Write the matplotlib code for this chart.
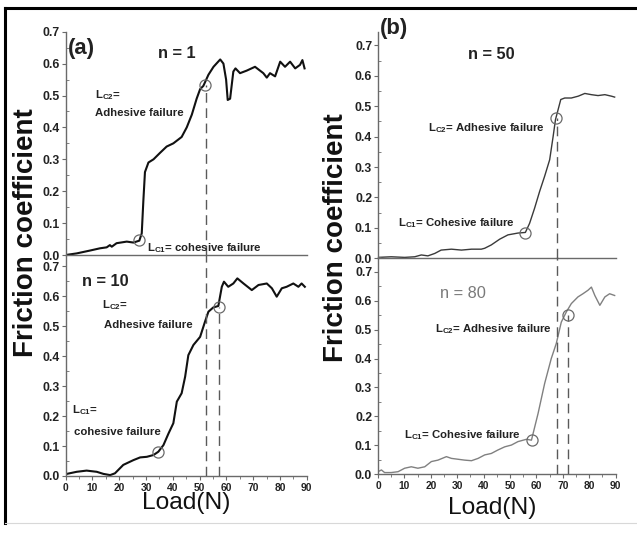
import matplotlib
matplotlib.use("Agg")
import matplotlib.pyplot as plt
from matplotlib.ticker import MultipleLocator
from matplotlib.lines import Line2D
from matplotlib import font_manager

# ---------------- data ----------------
a1_load = [0, 4.1, 9.1, 12.8, 15.3, 16.5, 17.2, 19, 22.8, 25.3, 27.5, 28.4, 29.0, 29.6, 30.9,
           32.8, 35.2, 37.7, 40.2, 43.3, 45.2, 47.1, 48.9, 50.2, 51.4, 53.3, 55.2, 57.7, 58.9,
           59.9, 60.5, 61.4, 62.6, 63.4, 65.1, 67.6, 70.7, 73.8, 75.1, 76.3, 78.2, 80.1, 81.9,
           83.8, 85.7, 87.5, 88.4, 89.2]
a1_mu = [0, 0.005, 0.014, 0.021, 0.024, 0.031, 0.026, 0.037, 0.042, 0.039, 0.045, 0.068, 0.17,
         0.26, 0.29, 0.30, 0.32, 0.34, 0.35, 0.37, 0.40, 0.44, 0.49, 0.52, 0.53, 0.565, 0.59,
         0.613, 0.60, 0.55, 0.486, 0.49, 0.575, 0.585, 0.57, 0.578, 0.59, 0.57, 0.556, 0.57,
         0.56, 0.606, 0.59, 0.606, 0.585, 0.596, 0.611, 0.585]

a10_load = [0, 0.4, 4.1, 7.8, 11.6, 14.1, 16.6, 18.4, 21.5, 25.3, 27.8, 30.3, 32.8, 34.6, 36.5,
            38.4, 40.2, 41.5, 43.3, 44.6, 45.8, 47.7, 50.2, 52.0, 53.3, 55.1, 57.0, 58.3, 59.1,
            60.7, 62.6, 64.1, 66.4, 69.5, 72.0, 75.1, 77.0, 78.8, 80.7, 82.5, 85.0, 86.9, 88.1, 89.3]
a10_mu = [0.003, 0.007, 0.014, 0.018, 0.014, 0.007, 0.003, 0.009, 0.037, 0.053, 0.062, 0.064,
          0.07, 0.081, 0.103, 0.142, 0.176, 0.248, 0.276, 0.331, 0.403, 0.437, 0.464, 0.514,
          0.548, 0.562, 0.567, 0.631, 0.648, 0.631, 0.642, 0.659, 0.642, 0.62, 0.637, 0.642,
          0.626, 0.598, 0.626, 0.631, 0.642, 0.631, 0.642, 0.631]

b50_load = [0, 5, 10.1, 13.9, 16.4, 18.9, 21.5, 23.9, 27.8, 31.6, 35.4, 39.1, 40.4, 42.9, 46.1,
            49.2, 53, 55.8, 57.4, 59.3, 61.2, 63.1, 65, 66.3, 67.2, 68.2, 69.2, 70.7, 73.2, 75.8,
            78.3, 80.8, 83.3, 85.9, 88.4, 89.6]
b50_mu = [0.003, 0.005, 0.003, 0.005, 0.011, 0.008, 0.016, 0.027, 0.03, 0.027, 0.03, 0.03, 0.033,
          0.044, 0.063, 0.077, 0.083, 0.085, 0.115, 0.165, 0.22, 0.27, 0.324, 0.40, 0.456, 0.489,
          0.522, 0.527, 0.527, 0.533, 0.542, 0.538, 0.535, 0.538, 0.533, 0.53]

b80_load = [0, 1.3, 2.5, 5, 7.6, 10.1, 12.6, 15.1, 17.7, 20.2, 22.7, 25.9, 27.8, 30.3, 32.8, 35.4,
            37.9, 40.4, 42.9, 45.4, 48, 50.5, 53, 56.2, 58.1, 60.6, 63.1, 65.6, 67.5, 69.4, 71.3,
            73.2, 75.7, 77.6, 79.5, 80.8, 82.1, 84, 85.9, 87.7, 89.6]
b80_mu = [0.009, 0.015, 0.006, 0.006, 0.009, 0.021, 0.026, 0.021, 0.026, 0.044, 0.049, 0.061,
          0.055, 0.052, 0.049, 0.047, 0.055, 0.067, 0.072, 0.084, 0.095, 0.101, 0.113, 0.121,
          0.118, 0.21, 0.314, 0.40, 0.452, 0.526, 0.561, 0.59, 0.613, 0.624, 0.636, 0.647, 0.618,
          0.584, 0.613, 0.624, 0.618]

# critical-load markers (load, friction)
a1_circ_load, a1_circ_mu = [27.5, 52.0], [0.047, 0.533]
a10_circ_load, a10_circ_mu = [34.5, 57.2], [0.079, 0.562]
b50_circ_load, b50_circ_mu = [55.8, 67.5], [0.082, 0.46]
b80_circ_load, b80_circ_mu = [58.3, 71.9], [0.118, 0.552]

x_ticks = [0, 10, 20, 30, 40, 50, 60, 70, 80, 90]
y_ticks = [0.0, 0.1, 0.2, 0.3, 0.4, 0.5, 0.6, 0.7]

# ---------------- style ----------------
names = {f.name for f in font_manager.fontManager.ttflist}
NARROW = "Liberation Sans Narrow" if "Liberation Sans Narrow" in names else "Liberation Sans"
k = 1.0 if NARROW == "Liberation Sans Narrow" else 0.84
plt.rcParams["font.family"] = [NARROW, "DejaVu Sans"]
plt.rcParams["mathtext.default"] = "regular"

W, H = 637, 538
fig = plt.figure(figsize=(W / 100, H / 100), dpi=100)

AX_COL = "#6a6a6a"
YT = 10.5 * k
XT = 8.8 * k
AN = 9.8 * k


def rect(x0, x1, y_top, y_bot):
    return [x0 / W, 1 - y_bot / H, (x1 - x0) / W, (y_bot - y_top) / H]


def style(ax, ymax, show_x):
    ax.set_xlim(0, 90)
    ax.set_ylim(0, ymax)
    for s in ("top", "right"):
        ax.spines[s].set_visible(False)
    for s in ("left", "bottom"):
        ax.spines[s].set_color(AX_COL)
        ax.spines[s].set_linewidth(1.0)
    ax.set_yticks(y_ticks)
    ax.set_yticklabels([f"{v:.1f}" for v in y_ticks])
    ax.yaxis.set_minor_locator(MultipleLocator(0.05))
    ax.tick_params(axis="y", which="major", direction="out", length=3, width=0.8,
                   color=AX_COL, pad=1.2, labelsize=YT)
    ax.tick_params(axis="y", which="minor", direction="in", length=2, width=0.6, color=AX_COL)
    for lab in ax.get_yticklabels():
        lab.set_fontweight("bold")
        lab.set_color("#222222")
    if show_x:
        ax.set_xticks(x_ticks)
        ax.set_xticklabels([str(v) for v in x_ticks])
        ax.xaxis.set_minor_locator(MultipleLocator(5))
        ax.tick_params(axis="x", which="major", direction="out", length=3, width=0.8,
                       color=AX_COL, pad=2, labelsize=XT)
        ax.tick_params(axis="x", which="minor", direction="out", length=2, width=0.6,
                       color=AX_COL)
        for lab in ax.get_xticklabels():
            lab.set_fontweight("bold")
            lab.set_color("#222222")
    else:
        ax.set_xticks([])
    ax.patch.set_alpha(0)


ax_a1 = fig.add_axes(rect(65.7, 306.7, 31.7, 255))
ax_a10 = fig.add_axes(rect(65.7, 306.7, 255, 476))
ax_b50 = fig.add_axes(rect(378, 615.7, 31.7, 258.3))
ax_b80 = fig.add_axes(rect(378, 615.7, 257, 474.3))

style(ax_a1, 0.70, False)
style(ax_a10, 0.737, True)
style(ax_b50, 0.745, False)
style(ax_b80, 0.751, True)

circ = dict(marker="o", ms=8, mfc="none", mec="#6a6a6a", mew=0.9, ls="none", zorder=4)
dash = dict(color="#5a5a5a", lw=1.0, ls=(0, (7, 4)), zorder=3)

# ---------------- (a) ----------------
ax_a1.plot(a1_load, a1_mu, color="#111111", lw=1.5)
ax_a1.plot(a1_circ_load, a1_circ_mu, **circ)
ax_a1.vlines(52.4, 0, a1_circ_mu[1], **dash)

ax_a10.plot(a10_load, a10_mu, color="#111111", lw=1.5)
ax_a10.plot(a10_circ_load, a10_circ_mu, **circ)
ax_a10.vlines(52.4, 0, 0.737, **dash)
ax_a10.vlines(57.2, 0, a10_circ_mu[1], **dash)

tb = dict(fontweight="bold", color="#222222")
ax_a1.text(0.9, 0.646, "(a)", fontsize=19 * k, va="center", ha="left", **tb)
ax_a1.text(41.6, 0.633, "n = 1", fontsize=14 * k, va="center", ha="center", **tb)
ax_a1.text(10.9, 0.50, "L$_{C2}$=", fontsize=AN, va="center", ha="left", **tb)
ax_a1.text(10.9, 0.445, "Adhesive failure", fontsize=AN, va="center", ha="left", **tb)
ax_a1.text(30.4, 0.022, "L$_{C1}$= cohesive failure", fontsize=AN, va="center", ha="left", **tb)

ax_a10.text(6.1, 0.647, "n = 10", fontsize=14 * k, va="center", ha="left", **tb)
ax_a10.text(13.6, 0.57, "L$_{C2}$=", fontsize=AN, va="center", ha="left", **tb)
ax_a10.text(14.3, 0.503, "Adhesive failure", fontsize=AN, va="center", ha="left", **tb)
ax_a10.text(2.4, 0.22, "L$_{C1}$=", fontsize=AN, va="center", ha="left", **tb)
ax_a10.text(3.1, 0.147, "cohesive failure", fontsize=AN, va="center", ha="left", **tb)

# ---------------- (b) ----------------
ax_b50.plot(b50_load, b50_mu, color="#3a3a3a", lw=1.0)
ax_b50.plot(b50_circ_load, b50_circ_mu, **circ)
ax_b50.vlines(67.8, 0, b50_circ_mu[1], **dash)

ax_b80.plot(b80_load, b80_mu, color="#808080", lw=1.0)
ax_b80.plot(b80_circ_load, b80_circ_mu, **circ)
ax_b80.vlines(67.8, 0, 0.751, **dash)
ax_b80.vlines(71.9, 0, b80_circ_mu[1], **dash)

ax_b50.text(0.8, 0.754, "(b)", fontsize=19 * k, va="center", ha="left", clip_on=False, **tb)
ax_b50.text(42.8, 0.669, "n = 50", fontsize=14 * k, va="center", ha="center", **tb)
ax_b50.text(18.9, 0.429, "L$_{C2}$= Adhesive failure", fontsize=AN, va="center", ha="left", **tb)
ax_b50.text(7.6, 0.116, "L$_{C1}$= Cohesive failure", fontsize=AN, va="center", ha="left", **tb)

ax_b80.text(23.5, 0.626, "n = 80", fontsize=14 * k, va="center", ha="left", color="#7a7a7a")
ax_b80.text(21.6, 0.502, "L$_{C2}$= Adhesive failure", fontsize=AN, va="center", ha="left", **tb)
ax_b80.text(9.8, 0.135, "L$_{C1}$= Cohesive failure", fontsize=AN, va="center", ha="left", **tb)

# ---------------- axis titles ----------------
fig.text(26 / W, 1 - 233 / H, "Friction coefficient", rotation=90, ha="center", va="center",
         fontsize=20, fontweight="bold", family=["Liberation Sans", "DejaVu Sans"], color="#111111")
fig.text(336 / W, 1 - 237.5 / H, "Friction coefficient", rotation=90, ha="center", va="center",
         fontsize=20, fontweight="bold", family=["Liberation Sans", "DejaVu Sans"], color="#111111")
fig.text(186.5 / W, 1 - 503 / H, "Load(N)", ha="center", va="center", fontsize=21 * k,
         color="#111111")
fig.text(492 / W, 1 - 508 / H, "Load(N)", ha="center", va="center", fontsize=21 * k,
         color="#111111")

# ---------------- frame ----------------
fig.add_artist(Line2D([5 / W, 5 / W], [1 - 8 / H, 1 - 523 / H], color="black", lw=2.2,
                      transform=fig.transFigure))
fig.add_artist(Line2D([5 / W, 1.0], [1 - 8 / H, 1 - 8 / H], color="black", lw=2.2,
                      transform=fig.transFigure))
fig.add_artist(Line2D([5 / W, 1.0], [1 - 523 / H, 1 - 523 / H], color="#d8d8d8", lw=0.8,
                      transform=fig.transFigure))

fig.savefig("out.png", dpi=100)
